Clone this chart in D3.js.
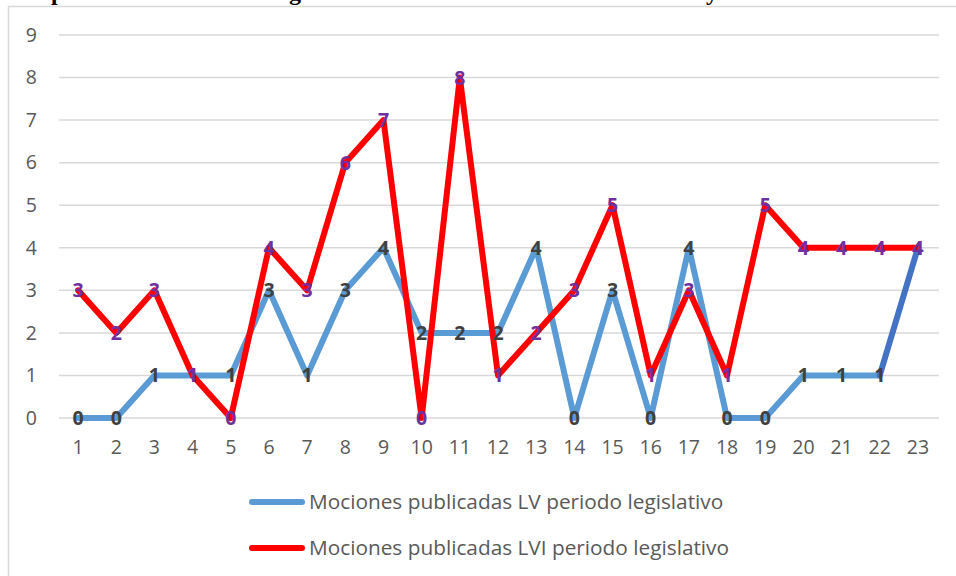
<!DOCTYPE html>
<html>
<head>
<meta charset="utf-8">
<script src="https://cdn.jsdelivr.net/npm/d3@7"></script>
<style>
  html, body {margin: 0; padding: 0; background: #fff;}
  svg {display: block;}
</style>
</head>
<body>
<svg id="chart" width="956" height="576"></svg>
<script>
// categories (1..23) and the two series
const categories = ["1","2","3","4","5","6","7","8","9","10","11","12","13","14","15","16","17","18","19","20","21","22","23"];
const lvValues  = [0,0,1,1,1,3,1,3,4,2,2,2,4,0,3,0,4,0,0,1,1,1,4];
const lviValues = [3,2,3,1,0,4,3,6,7,0,8,1,2,3,5,1,3,1,5,4,4,4,4];
const yTicks = [0,1,2,3,4,5,6,7,8,9];
const seriesNames = ["Mociones publicadas LV periodo legislativo", "Mociones publicadas LVI periodo legislativo"];

const width = 956, height = 576;
const margin = {top: 35, right: 19, bottom: 158, left: 59};
const font = "'Open Sans', 'Liberation Sans', sans-serif";

const svg = d3.select("#chart");

// title line cut off at the top of the picture, only descenders show
const title = svg.append("g")
    .attr("font-family", "'Liberation Serif', 'DejaVu Serif', serif")
    .attr("font-weight", "bold")
    .attr("font-size", 24)
    .attr("fill", "#000");
[["p", 51], ["g", 289], ["y", 706]].forEach(([t, px]) => {
    title.append("text").attr("x", px).attr("y", 0).text(t);
});

// chart frame
svg.append("rect")
    .attr("x", 8.5).attr("y", 6.5)
    .attr("width", 1000).attr("height", 700)
    .attr("fill", "none")
    .attr("stroke", "#d9d9d9")
    .attr("stroke-width", 1.5);

const x = d3.scaleBand()
    .domain(categories)
    .range([margin.left, width - margin.right]);
const cx = c => x(c) + x.bandwidth() / 2;

const y = d3.scaleLinear()
    .domain([0, 9])
    .range([height - margin.bottom, margin.top]);

// gridlines
svg.append("g")
    .attr("stroke", "#d9d9d9")
    .attr("stroke-width", 1.5)
    .selectAll("line")
    .data(yTicks)
    .join("line")
    .attr("x1", margin.left)
    .attr("x2", width - margin.right + 2)
    .attr("y1", d => y(d))
    .attr("y2", d => y(d));

// y axis
const yAxis = svg.append("g")
    .attr("transform", `translate(${margin.left},0)`)
    .call(d3.axisLeft(y).tickValues(yTicks).tickSize(0).tickPadding(22));
yAxis.select(".domain").remove();
yAxis.selectAll("text")
    .attr("font-family", font)
    .attr("font-size", 19.5)
    .attr("fill", "#595959");

// x axis
const xAxis = svg.append("g")
    .attr("transform", `translate(0,${y(0)})`)
    .call(d3.axisBottom(x).tickSize(0).tickPadding(22));
xAxis.select(".domain").remove();
xAxis.selectAll("text")
    .attr("font-family", font)
    .attr("font-size", 19.5)
    .attr("fill", "#595959");

const lvData = categories.map((c, i) => ({c, v: lvValues[i]}));
const lviData = categories.map((c, i) => ({c, v: lviValues[i]}));

const line = d3.line()
    .x(d => cx(d.c))
    .y(d => y(d.v));

// LV line: last segment in a darker blue
svg.append("path")
    .datum(lvData.slice(0, lvData.length - 1))
    .attr("fill", "none")
    .attr("stroke", "#5b9bd5")
    .attr("stroke-width", 6)
    .attr("stroke-linejoin", "round")
    .attr("stroke-linecap", "round")
    .attr("d", line);
svg.append("path")
    .datum(lvData.slice(lvData.length - 2))
    .attr("fill", "none")
    .attr("stroke", "#4472c4")
    .attr("stroke-width", 6)
    .attr("stroke-linecap", "round")
    .attr("d", line);

// LVI line
svg.append("path")
    .datum(lviData)
    .attr("fill", "none")
    .attr("stroke", "#ff0000")
    .attr("stroke-width", 6)
    .attr("stroke-linejoin", "round")
    .attr("stroke-linecap", "round")
    .attr("d", line);

// data labels
function labels(data, color) {
    svg.append("g")
        .attr("font-family", font)
        .attr("font-weight", "bold")
        .attr("font-size", 19.5)
        .attr("fill", color)
        .attr("text-anchor", "middle")
        .selectAll("text")
        .data(data)
        .join("text")
        .attr("x", d => cx(d.c))
        .attr("y", d => y(d.v))
        .attr("dy", "0.36em")
        .text(d => d.v);
}
labels(lvData, "#404040");
labels(lviData, "#7030a0");

// legend
const legend = svg.append("g");
const legendColors = ["#5b9bd5", "#ff0000"];
const legendY = [502, 548];
seriesNames.forEach((name, i) => {
    legend.append("line")
        .attr("x1", 252).attr("x2", 302)
        .attr("y1", legendY[i]).attr("y2", legendY[i])
        .attr("stroke", legendColors[i])
        .attr("stroke-width", 6)
        .attr("stroke-linecap", "round");
    legend.append("text")
        .attr("x", 309)
        .attr("y", legendY[i])
        .attr("dy", "0.35em")
        .attr("font-family", font)
        .attr("font-size", 20.8)
        .attr("fill", "#595959")
        .text(name);
});
</script>
</body>
</html>
